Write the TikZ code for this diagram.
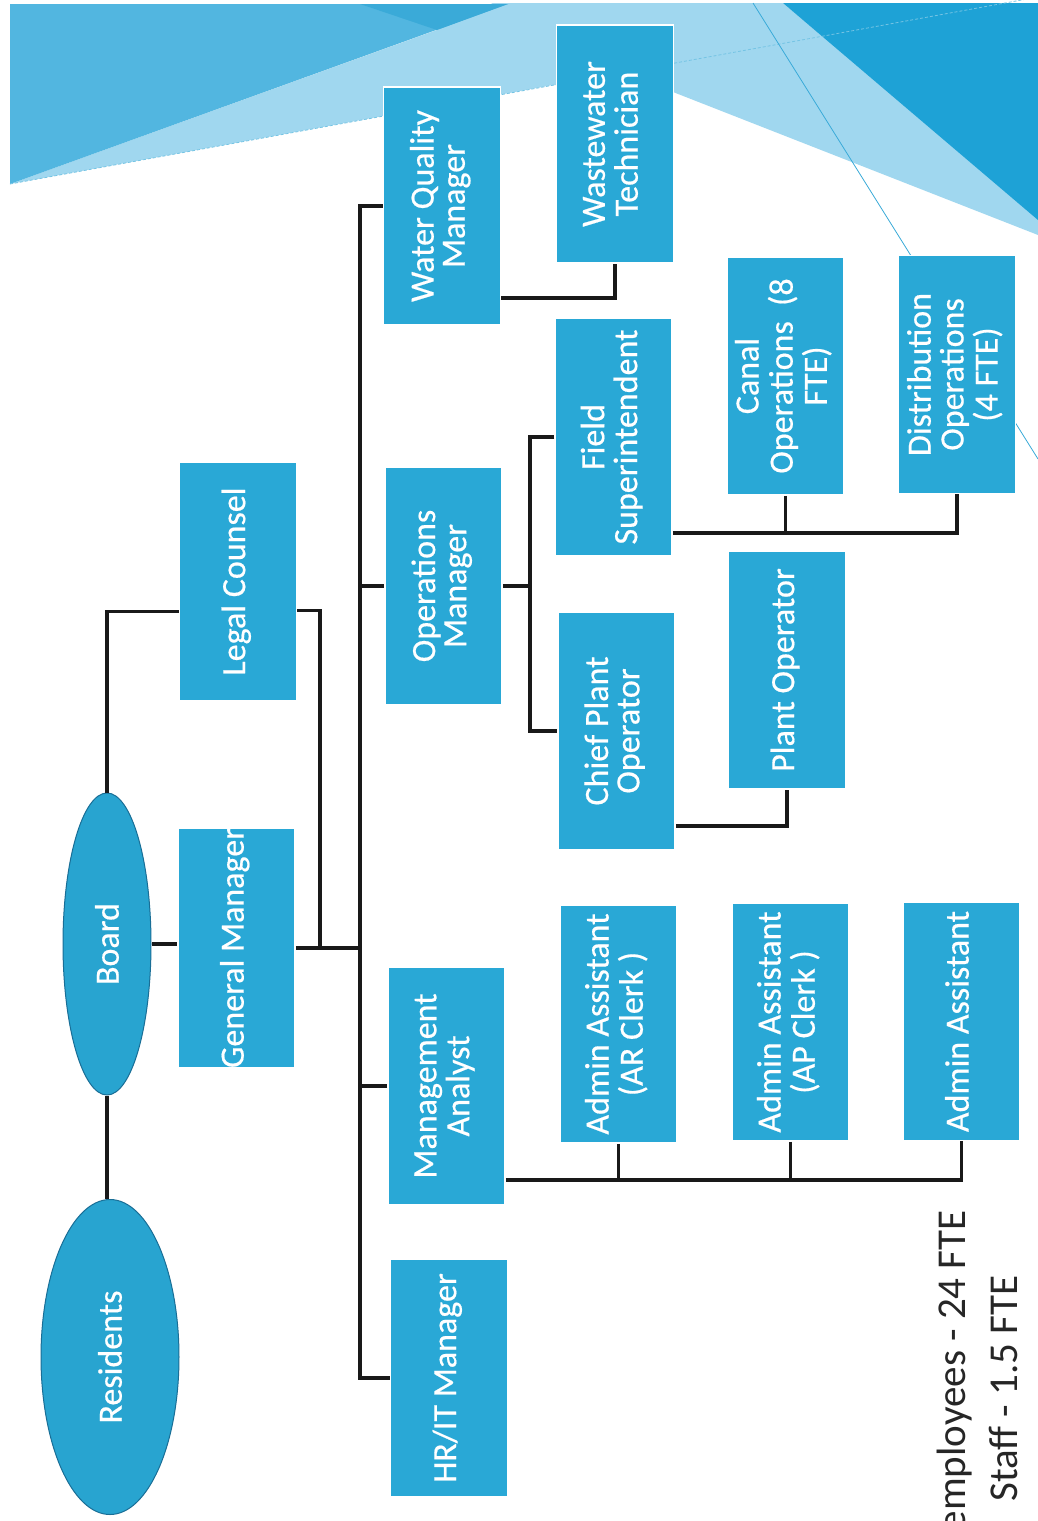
\documentclass[tikz,border=0pt]{standalone}
\usepackage{fontspec}
\setmainfont{Carlito}
\newfontfamily\boxfont{Carlito}[FakeBold=0.5]
\usetikzlibrary{shapes.geometric,calc}
\definecolor{boxblue}{RGB}{41,168,214}
\definecolor{ellblue}{RGB}{40,164,208}
\definecolor{ellline}{RGB}{25,110,150}
\definecolor{bgA}{RGB}{82,182,224}
\definecolor{bgLight}{RGB}{160,215,239}
\definecolor{bgMid}{RGB}{58,170,216}
\definecolor{bgDark}{RGB}{30,162,214}
\newcommand\rt[1]{\rotatebox{90}{\begin{tabular}{@{}c@{}}#1\end{tabular}}}
\begin{document}
\begin{tikzpicture}[x=1pt,y=-1pt,
  orgbox/.style={draw=white, line width=1.5pt, fill=boxblue, text=white,
    minimum width=117pt, minimum height=238pt, inner sep=0pt,
    font=\boxfont\fontsize{34}{31}\selectfont},
  orgell/.style={ellipse, draw=ellline, line width=1pt, fill=ellblue, text=white,
    inner sep=0pt, font=\boxfont\fontsize{34}{31}\selectfont},
  conn/.style={draw=black!90, line width=3.5pt},
  note/.style={text=black!85, font=\fontsize{41}{44}\selectfont, rotate=90,
    anchor=base east, inner sep=0pt}]

\useasboundingbox (0,0) rectangle (1038,1521);
\fill[white] (0,0) rectangle (1038,1521);

% background decoration
\fill[bgLight] (10,184) -- (437,30) -- (493,3) -- (783,3) -- (1038,215) -- (1038,235) -- (673,92) -- (553,85) -- cycle;
\fill[bgA] (10,4) -- (508,4) -- (10,184) -- cycle;
\fill[bgMid] (360,4) -- (508,4) -- (437,30) -- cycle;
\fill[bgDark] (783,3) -- (1038,3) -- (1038,220) -- cycle;
\draw[bgMid!70, line width=0.8pt, dash pattern=on 3pt off 2pt] (10,184) -- (1038,-3);
\draw[bgMid, line width=0.8pt] (753,3) -- (1038,459);

% nodes
\node[orgell, minimum width=138pt, minimum height=315pt] (res) at (110,1357) {\rotatebox{90}{Residents}};
\node[orgell, minimum width=88pt, minimum height=302pt] (board) at (107,944) {\rotatebox{90}{Board}};

\node[orgbox] (lc)  at (238,581.5)  {\rt{Legal Counsel}};
\node[orgbox] (gm)  at (236.5,948)  {\rt{General Manager}};
\node[orgbox] (wqm) at (442,206)    {\rt{Water Quality\\Manager}};
\node[orgbox] (om)  at (443.5,586)  {\rt{Operations\\Manager}};
\node[orgbox] (ma)  at (446.5,1086) {\rt{Management\\Analyst}};
\node[orgbox] (hr)  at (449,1378)   {\rt{HR/IT Manager}};
\node[orgbox] (wt)  at (615,144)    {\rt{Wastewater\\Technician}};
\node[orgbox] (fs)  at (613.5,437)  {\rt{Field\\Superintendent}};
\node[orgbox] (cpo) at (616.5,731)  {\rt{Chief Plant\\Operator}};
\node[orgbox] (ar)  at (618.5,1024) {\rt{Admin Assistant\\(AR Clerk )}};
\node[orgbox] (co)  at (785.5,376)  {\rt{Canal\\Operations\ \ (8\\FTE)}};
\node[orgbox] (po)  at (787,670)    {\rt{Plant Operator}};
\node[orgbox] (ap)  at (790.5,1022) {\rt{Admin Assistant\\(AP Clerk )}};
\node[orgbox] (do)  at (957,374.5)  {\rt{Distribution\\Operations\\(4 FTE)}};
\node[orgbox] (aa)  at (961.5,1021.5) {\rt{Admin Assistant}};

% connectors
\coordinate (bus) at (360,0);
\draw[conn] (wqm.west) -| (hr.west -| bus) -- (hr.west);
\draw[conn] (om.west -| bus) -- (om.west);
\draw[conn] (ma.west -| bus) -- (ma.west);
\draw[conn] (gm.east) -- (gm.east -| bus);
\coordinate (lcx) at (320,0);
\draw[conn] ($(lc.east)+(0,29)$) -| (lcx |- gm.east);
\draw[conn] (board.north) |- ($(lc.west)+(0,30)$);
\draw[conn] (board.east) -- (board.east -| gm.west);
\draw[conn] (board.south) -- (board.south |- res.north);

\coordinate (ox) at (530,0);
\draw[conn] (om.east) -- (om.east -| ox);
\draw[conn] (fs.west) -| (ox |- cpo.west) -- (cpo.west);
\coordinate (fy) at (0,533);
\draw[conn] (fs.east |- fy) -| (do.south);
\draw[conn] (co.south) -- (co.south |- fy);
\coordinate (cy) at (0,826);
\draw[conn] (cpo.east |- cy) -| (po.south);
\coordinate (my) at (0,1180);
\draw[conn] (ma.east |- my) -| (aa.south);
\draw[conn] (ar.south) -- (ar.south |- my);
\draw[conn] (ap.south) -- (ap.south |- my);
\coordinate (wy) at (0,298);
\draw[conn] (wqm.east |- wy) -| (wt.south);

% footer notes
\node[note] (n1) at (965,1210) {employees - 24 FTE};
\node[note] (n2) at (1017,1275) {Staff - 1.5 FTE};
\end{tikzpicture}
\end{document}
